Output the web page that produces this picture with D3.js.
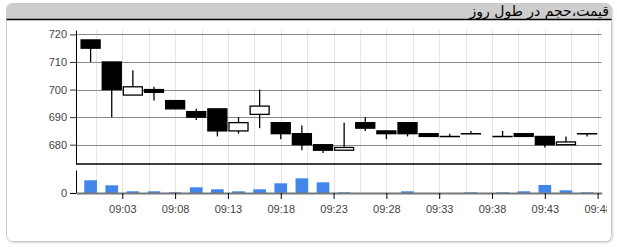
<!DOCTYPE html>
<html>
<head>
<meta charset="utf-8">
<script src="https://cdnjs.cloudflare.com/ajax/libs/d3/7.8.5/d3.min.js"></script>
<style>
    body { margin: 0; background: #fff; }
    .axis text { font-family: "Liberation Sans", Arial, sans-serif; font-size: 11px; fill: #444; }
</style>
</head>
<body>
<div id="chart"></div>
<script>

// ---- data ----
var times  = ["09:00","09:02","09:04","09:06","09:08","09:10","09:12","09:14","09:16","09:18","09:20","09:22",
              "09:24","09:26","09:28","09:30","09:32","09:34","09:36","09:39","09:41","09:43","09:45","09:47"];
var open   = [718,710,698,700,696,692,693,685,691,688,684,680,678,688,685,688,684,683,684,683,684,683,680,684];
var close  = [715,700,701,699,693,690,685,688,694,684,680,678,679,686,684,684,683,683,684,683,683,680,681,684];
var high   = [718,710,707,701,696,693,693,690,700,688,687,680,688,690,685,688,684,684,685,685,684,683,683,684];
var low    = [710,690,698,696,693,689,683,684,686,682,678,677,678,685,682,683,683,683,684,683,683,679,680,683];
var volume = [1270000,770000,170000,170000,70000,570000,370000,170000,370000,970000,1470000,1070000,
              70000,0,0,170000,0,0,70000,70000,170000,800000,270000,70000];

var priceTicks = [680, 690, 700, 710, 720];
var timeTicks  = ["09:03","09:08","09:13","09:18","09:23","09:28","09:33","09:38","09:43","09:48"];
var title = "قیمت،حجم در طول روز";

var parseTime = d3.timeParse("%H:%M");
var data = times.map(function(t, i) {
    return { t: parseTime(t), o: open[i], c: close[i], h: high[i], l: low[i], v: volume[i] };
});

// ---- layout ----
var W = 617, H = 247;
var left = 76, right = 601.7;
var priceTop = 30, priceBottom = 164;
var volTop = 170, volBottom = 193;

var svg = d3.select("#chart").append("svg")
    .attr("width", W)
    .attr("height", H);

// panel frame with shadow
svg.append("rect")
    .attr("x", 7.5).attr("y", 4.5).attr("width", 606).attr("height", 239)
    .attr("rx", 7).attr("fill", "#e4e4e4");
svg.append("rect")
    .attr("x", 6.5).attr("y", 3.5).attr("width", 605).attr("height", 238)
    .attr("rx", 6).attr("fill", "#fff").attr("stroke", "#c9c9c9");

// title bar
svg.append("path")
    .attr("d", "M6.5,19.5 L6.5,9.5 Q6.5,3.5 12.5,3.5 L605.5,3.5 Q611.5,3.5 611.5,9.5 L611.5,19.5 Z")
    .attr("fill", "#cdcdcd");
svg.append("line")
    .attr("x1", 6.5).attr("x2", 611.5).attr("y1", 19.5).attr("y2", 19.5)
    .attr("stroke", "#000").attr("stroke-width", 1.5);
svg.append("text")
    .attr("x", 609).attr("y", 16)
    .attr("text-anchor", "end")
    .style("font-family", "'DejaVu Sans', sans-serif")
    .style("font-size", "14px")
    .attr("fill", "#000")
    .text(title);

// clip for plot + axis labels
svg.append("defs").append("clipPath").attr("id", "clip")
    .append("rect").attr("x", 0).attr("y", 20).attr("width", 607).attr("height", 220);

var g = svg.append("g").attr("clip-path", "url(#clip)");

// scales
var x = d3.scaleTime()
    .domain([parseTime("08:58").getTime() + 37000, parseTime("09:48").getTime() + 23000])
    .range([left, right]);

var y = d3.scaleLinear()
    .domain([673, 721.6])
    .range([priceBottom, priceTop]);

var yVol = d3.scaleLinear()
    .domain([0, 2300000])
    .range([volBottom, volTop]);

var tickDates = timeTicks.map(parseTime);
var halfStep = 150000; // 2.5 min

// vertical grid lines (every 2.5 minutes)
var gridDates = [];
tickDates.forEach(function(d) {
    gridDates.push(new Date(d.getTime() - halfStep));
    gridDates.push(d);
});
g.selectAll(".vgrid")
    .data(gridDates)
    .enter().append("line")
    .attr("class", "vgrid")
    .attr("x1", function(d) { return Math.round(x(d)) + 0.5; })
    .attr("x2", function(d) { return Math.round(x(d)) + 0.5; })
    .attr("y1", priceTop)
    .attr("y2", volBottom)
    .attr("stroke", "#e6e6e6");

// horizontal price grid
g.selectAll(".hgrid")
    .data(priceTicks)
    .enter().append("line")
    .attr("class", "hgrid")
    .attr("x1", left).attr("x2", right)
    .attr("y1", function(d) { return Math.round(y(d)) + 0.5; })
    .attr("y2", function(d) { return Math.round(y(d)) + 0.5; })
    .attr("stroke", "#8a8a8a")
    .attr("stroke-width", 1.2);

// price axis
var yAxis = d3.axisLeft(y).tickValues(priceTicks).tickSize(6).tickSizeOuter(0);
var yAxisG = g.append("g")
    .attr("class", "axis")
    .attr("transform", "translate(" + left + ",0)")
    .call(yAxis);
yAxisG.select(".domain").attr("stroke", "#000");
yAxisG.selectAll(".tick line").attr("stroke", "#333");

// bottom border of price panel
g.append("line")
    .attr("x1", left).attr("x2", right)
    .attr("y1", priceBottom).attr("y2", priceBottom)
    .attr("stroke", "#000").attr("stroke-width", 1.5);

// candles
var candleW = x(parseTime("09:01").getTime() + 48000) - x(parseTime("09:00"));
var candles = g.selectAll(".candle")
    .data(data)
    .enter().append("g")
    .attr("class", "candle");

candles.append("line")
    .attr("x1", function(d) { return x(d.t); })
    .attr("x2", function(d) { return x(d.t); })
    .attr("y1", function(d) { return y(d.h); })
    .attr("y2", function(d) { return y(d.l); })
    .attr("stroke", "#000")
    .attr("stroke-width", 1.3);

// dojis (open == close) still need a visible body line
candles.append("rect")
    .attr("x", function(d) { return x(d.t) - candleW / 2; })
    .attr("width", candleW)
    .attr("y", function(d) { return y(Math.max(d.o, d.c)); })
    .attr("height", function(d) { return Math.max(Math.abs(y(d.o) - y(d.c)), 0.2); })
    .attr("fill", function(d) { return d.c >= d.o ? "#fff" : "#000"; })
    .attr("stroke", "#000")
    .attr("stroke-width", 1.3);

// volume bars
var barW = x(parseTime("09:01").getTime() + 12000) - x(parseTime("09:00"));
g.selectAll(".vol")
    .data(data)
    .enter().append("rect")
    .attr("class", "vol")
    .attr("x", function(d) { return x(d.t) - barW / 2; })
    .attr("width", barW)
    .attr("y", function(d) { return yVol(d.v); })
    .attr("height", function(d) { return volBottom - yVol(d.v); })
    .attr("fill", "#4286ec");

// volume axis
var yVolAxis = d3.axisLeft(yVol).tickValues([0]).tickSize(6).tickSizeOuter(0);
var yVolG = g.append("g")
    .attr("class", "axis")
    .attr("transform", "translate(" + left + ",0)")
    .call(yVolAxis);
yVolG.select(".domain").attr("stroke", "#000");

// time axis
var xAxis = d3.axisBottom(x)
    .tickValues(tickDates)
    .tickFormat(d3.timeFormat("%H:%M"))
    .tickSize(6)
    .tickSizeOuter(0)
    .tickPadding(6);
var xAxisG = g.append("g")
    .attr("class", "axis")
    .attr("transform", "translate(0," + volBottom + ")")
    .call(xAxis);
xAxisG.select(".domain").attr("stroke", "#777").attr("stroke-width", 2);
xAxisG.selectAll(".tick line").attr("stroke", "#000");

</script>
</body>
</html>
